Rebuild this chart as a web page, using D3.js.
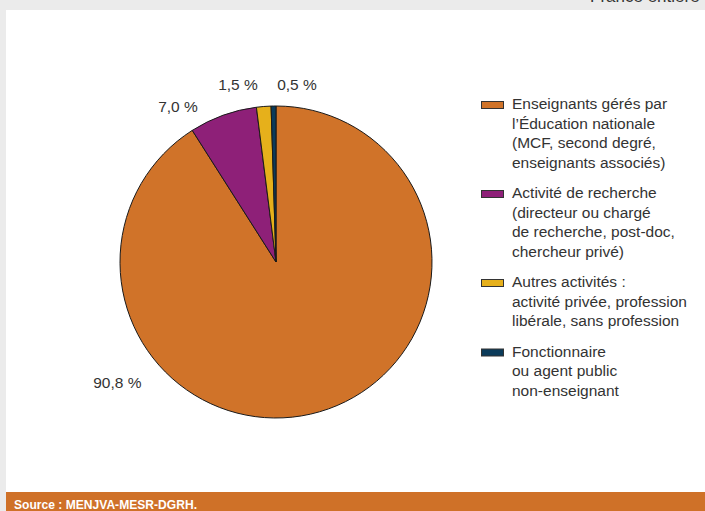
<!DOCTYPE html>
<html lang="fr">
<head>
<meta charset="utf-8">
<script src="https://cdn.jsdelivr.net/npm/d3@7"></script>
<style>
  html, body { margin: 0; padding: 0; background: #ebebeb; }
  svg { display: block; }
  text { font-family: "Liberation Sans", Arial, Helvetica, sans-serif; }
</style>
</head>
<body>
<svg id="chart" width="705" height="511"></svg>
<script>
// Répartition par activité principale (France entière)
const categories = ["Enseignants", "Recherche", "Autres", "Fonctionnaire"];
const values = [90.8, 7.0, 1.5, 0.5];
const valueLabels = ["90,8 %", "7,0 %", "1,5 %", "0,5 %"];
const colors = ["#d07329", "#8e2078", "#e6b01b", "#0b3b5a"];
const legendLines = [
  ["Enseignants gérés par", "l\u2019Éducation nationale", "(MCF, second degré,", "enseignants associés)"],
  ["Activité de recherche", "(directeur ou chargé", "de recherche, post-doc,", "chercheur privé)"],
  ["Autres activités :", "activité privée, profession", "libérale, sans profession"],
  ["Fonctionnaire", "ou agent public", "non-enseignant"]
];
const subtitle = "France entière";
const source = "Source : MENJVA-MESR-DGRH.";

const svg = d3.select("#chart");
const W = 705, H = 511;

// panel
svg.append("rect").attr("x", 6).attr("y", 10).attr("width", W - 6).attr("height", H - 10).attr("fill", "#ffffff");
svg.append("text").attr("x", 590).attr("y", 2).attr("font-size", 17).attr("fill", "#333").text(subtitle);

// pie
const cx = 276, cy = 262, r = 156;
const pie = d3.pie().sort(null).value(d => d)(values);
const arc = d3.arc().innerRadius(0).outerRadius(r);
const g = svg.append("g").attr("transform", `translate(${cx},${cy})`);
g.selectAll("path").data(pie).join("path")
  .attr("d", arc)
  .attr("fill", (d, i) => colors[i])
  .attr("stroke", "#1a1a1a")
  .attr("stroke-width", 1)
  .attr("stroke-linejoin", "round");

// value labels: angle (degrees clockwise from top) and distance from centre
const labelPlace = [[232.5, 200], [327.5, 182.5], [347.8, 180], [6.8, 177]];
g.selectAll("text.val").data(pie).join("text")
  .attr("class", "val")
  .attr("x", (d, i) => Math.sin(labelPlace[i][0] * Math.PI / 180) * labelPlace[i][1])
  .attr("y", (d, i) => -Math.cos(labelPlace[i][0] * Math.PI / 180) * labelPlace[i][1])
  .attr("text-anchor", "middle")
  .attr("dominant-baseline", "middle")
  .attr("font-size", 15.5)
  .attr("fill", "#333")
  .text((d, i) => valueLabels[i]);

// legend
const lineH = 19.5, groupGap = 11;
let y = 105;
legendLines.forEach((lines, i) => {
  const lg = svg.append("g");
  lg.append("rect").attr("x", 481.5).attr("y", y - 3.5).attr("width", 22).attr("height", 7)
    .attr("fill", colors[i]).attr("stroke", "#333").attr("stroke-width", 1);
  lines.forEach((t, j) => {
    lg.append("text").attr("x", 512).attr("y", y + j * lineH)
      .attr("dominant-baseline", "middle")
      .attr("font-size", 15.5).attr("fill", "#333").text(t);
  });
  y += lines.length * lineH + groupGap;
});

// source bar
svg.append("rect").attr("x", 6).attr("y", 492).attr("width", W - 6).attr("height", H - 492).attr("fill", "#cf7128");
svg.append("text").attr("x", 14).attr("y", 509)
  .attr("font-family", "'Liberation Sans Narrow', 'Arial Narrow', 'Liberation Sans', sans-serif")
  .attr("font-weight", "bold").attr("font-size", 13.5).attr("fill", "#ffffff")
  .attr("textLength", 183).attr("lengthAdjust", "spacingAndGlyphs")
  .text(source);
</script>
</body>
</html>
